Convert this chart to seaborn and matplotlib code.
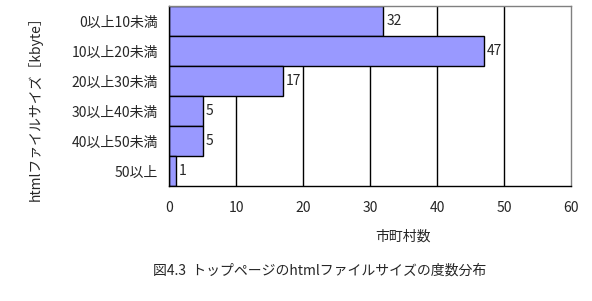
import matplotlib
matplotlib.use("Agg")
import matplotlib.pyplot as plt
import seaborn as sns
import pandas as pd

categories = ["0以上10未満", "10以上20未満", "20以上30未満", "30以上40未満", "40以上50未満", "50以上"]
counts = [32, 47, 17, 5, 5, 1]
xticks = [0, 10, 20, 30, 40, 50, 60]

sns.set_style("white")
plt.rcParams['font.family'] = ['Noto Sans CJK JP', 'DejaVu Sans']

df = pd.DataFrame({"cat": categories, "n": counts})

fig = plt.figure(figsize=(5.92, 3.01), dpi=100)
ax = fig.add_axes([169/592, 1 - 186/301, (571 - 169)/592, (186 - 6)/301])

sns.barplot(data=df, y="cat", x="n", orient="h", color="#9999FF", saturation=1,
            width=1.0, edgecolor="black", linewidth=1.0, ax=ax, zorder=3)

ax.set_xlim(0, 60)
ax.set_xticks(xticks)
ax.set_xticklabels([str(t) for t in xticks], fontsize=10)
ax.set_ylim(len(categories) - 0.5, -0.5)
for t in xticks[1:-1]:
    ax.axvline(t, color="black", linewidth=1.0, zorder=1)

ax.tick_params(axis="both", length=0, labelsize=10)
ax.tick_params(axis="x", pad=11)
ax.tick_params(axis="y", pad=8)
ax.set_xlabel("")
ax.set_ylabel("")

for s in ["left", "bottom"]:
    ax.spines[s].set_color("black")
    ax.spines[s].set_linewidth(1.0)
for s in ["top", "right"]:
    ax.spines[s].set_color("#808080")
    ax.spines[s].set_linewidth(1.0)
for s in ax.spines.values():
    s.set_zorder(4)

for i, v in enumerate(counts):
    ax.text(v + 0.45, i, str(v), va="center", ha="left", fontsize=10, zorder=5)

fig.text(403/592, 1 - 237/301, "市町村数", ha="center", va="center", fontsize=10)
fig.text(35/592, 1 - 105/301, "htmlファイルサイズ［kbyte］", ha="center", va="center",
         rotation=90, fontsize=10)
fig.text(320/592, 1 - 271/301, "図4.3  トップページのhtmlファイルサイズの度数分布",
         ha="center", va="center", fontsize=10)

fig.savefig("out.png", dpi=100)
